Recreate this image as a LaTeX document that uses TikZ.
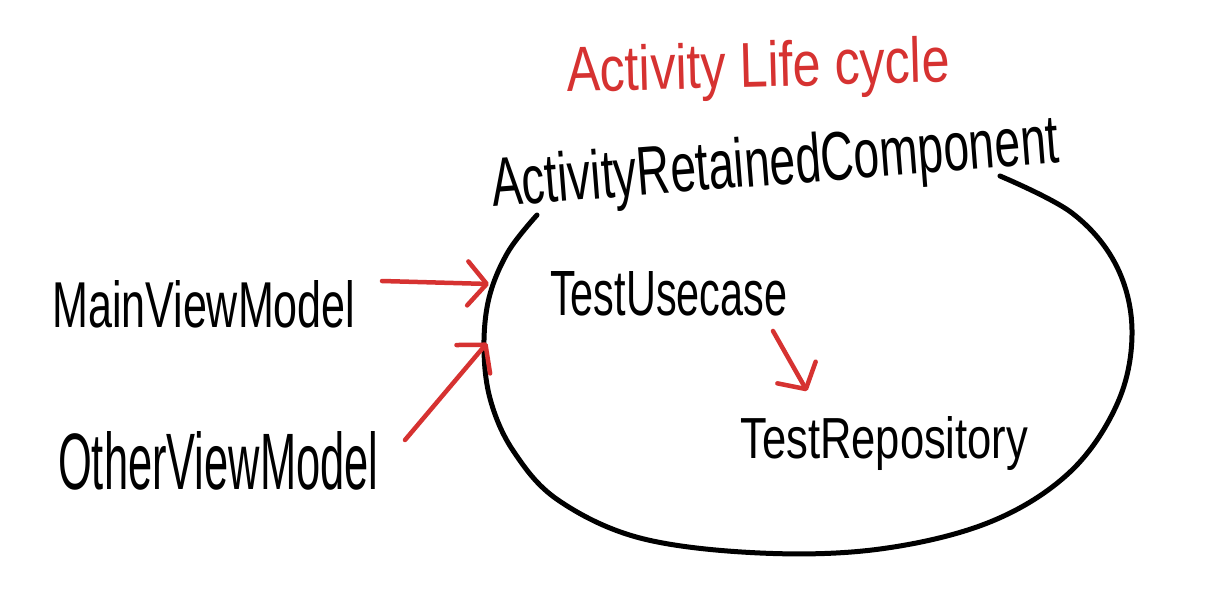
\documentclass[tikz,border=0pt]{standalone}
\usepackage{fontspec}
\setmainfont{Liberation Sans}
\usepackage{graphicx}
\usetikzlibrary{arrows.meta}
\definecolor{penred}{RGB}{214,50,49}
\newcommand{\hw}[3]{\resizebox{#1pt}{#2pt}{#3}}
\begin{document}
\begin{tikzpicture}[x=1pt,y=-1pt,
  lbl/.style={inner sep=0pt,anchor=base west,text=black},
  redlbl/.style={lbl,text=penred},
  loop/.style={line width=5pt,line cap=round,line join=round},
  redarrow/.style={draw=penred,line width=4.5pt,line cap=round,line join=round,
    -{Straight Barb[length=19pt,width=44pt,line cap=round,line join=round]}}]
\fill[white] (0,0) rectangle (1216,604);
\useasboundingbox (0,0) rectangle (1216,604);

% texts
\node[redlbl,rotate=1.5] (life) at (567,92) {\hw{383}{46}{Activity Life cycle}};
\node[lbl,rotate=4.5] (arc) at (493,207) {\hw{569}{50}{ActivityRetainedComponent}};
\node[lbl] (main) at (52,327) {\hw{303}{47}{MainViewModel}};
\node[lbl] (other) at (58,489) {\hw{320}{58}{OtherViewModel}};
\node[lbl] (usecase) at (550,315) {\hw{237}{44}{TestUsecase}};
\node[lbl] (repo) at (740,458) {\hw{288}{42}{TestRepository}};

% retained component boundary
\draw[loop] plot[smooth,tension=0.6] coordinates {
  (537,215) (508,252) (489,298) (484,350) (491,402) (514,452) (558,500)
  (640,538) (760,553) (880,549) (990,522) (1070,472) (1118,402)
  (1132,330) (1116,265) (1072,213) (1000,176)};

% connectors
\coordinate (a1s) at (382,281);
\coordinate (a1e) at (489,284);
\coordinate (a2s) at (405,440);
\coordinate (a2e) at (487,343);
\coordinate (a3s) at (773,331);
\coordinate (a3e) at (807,391);
\draw[redarrow] (a1s) -- (a1e);
\draw[redarrow] (a2s) -- (a2e);
\draw[redarrow] (a3s) -- (a3e);
\end{tikzpicture}
\end{document}
